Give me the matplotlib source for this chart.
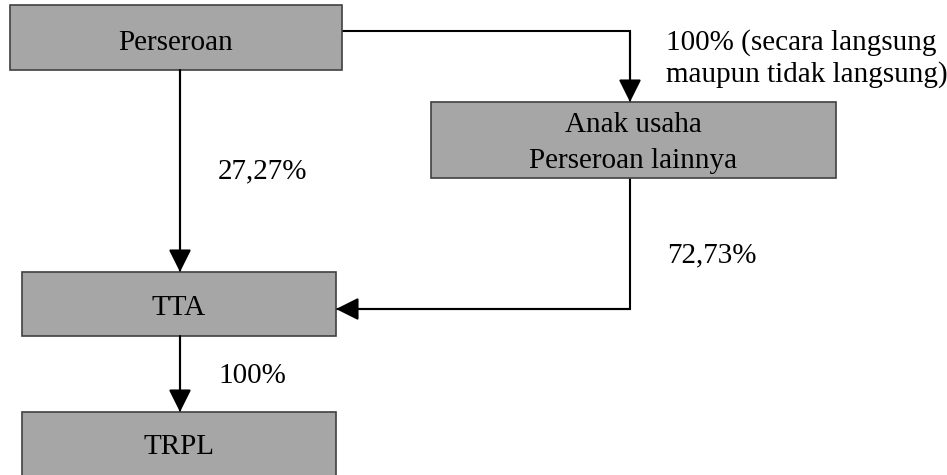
import matplotlib
matplotlib.use("Agg")
import matplotlib.pyplot as plt
from matplotlib.patches import Rectangle, FancyArrowPatch

plt.rcParams['font.family'] = ['Liberation Serif', 'DejaVu Serif']

box_labels = ["Perseroan", "Anak usaha\nPerseroan lainnya", "TTA", "TRPL"]
box_x0 = [10, 431, 22, 22]
box_x1 = [342, 836, 336, 336]
box_y0 = [5, 102, 272, 412]
box_y1 = [70, 178, 336, 480]
pct_labels = ["100% (secara langsung\nmaupun tidak langsung)", "27,27%", "72,73%", "100%"]

W, H = 947, 475
fig = plt.figure(figsize=(W / 100, H / 100), dpi=100)
ax = fig.add_axes([0, 0, 1, 1])
ax.set_xlim(0, W)
ax.set_ylim(H, 0)
ax.axis('off')

fs = 21
fill = '#a6a6a6'
edge = '#404040'

label_y = [50, None, 315, 454]
for lab, x0, x1, y0, y1, ly in zip(box_labels, box_x0, box_x1, box_y0, box_y1, label_y):
    ax.add_patch(Rectangle((x0, y0), x1 - x0, y1 - y0, facecolor=fill,
                           edgecolor=edge, linewidth=1.2, zorder=2))
    if ly is None:
        ax.text((x0 + x1) / 2, 132, "Anak usaha", ha='center', va='baseline', fontsize=fs, zorder=3)
        ax.text((x0 + x1) / 2, 168, "Perseroan lainnya", ha='center', va='baseline', fontsize=fs, zorder=3)
    else:
        ax.text((x0 + x1) / 2, ly, lab, ha='center', va='baseline', fontsize=fs, zorder=3)

def arrow(points):
    xs = [p[0] for p in points]
    ys = [p[1] for p in points]
    ax.plot(xs, ys, color='black', lw=1.5, solid_joinstyle='miter', zorder=1)
    ax.add_patch(FancyArrowPatch(points[-2], points[-1],
                                 arrowstyle='-|>,head_length=0.6,head_width=0.3',
                                 mutation_scale=23, color='black', lw=1.5,
                                 shrinkA=0, shrinkB=0, zorder=4))

# Perseroan -> Anak usaha
arrow([(342, 31), (630, 31), (630, 102)])
# Perseroan -> TTA
arrow([(180, 70), (180, 272)])
# Anak usaha -> TTA
arrow([(630, 178), (630, 309), (336, 309)])
# TTA -> TRPL
arrow([(180, 336), (180, 412)])

p1 = pct_labels[0].split("\n")
ax.text(666, 50, p1[0], ha='left', va='baseline', fontsize=fs)
ax.text(666, 82, p1[1], ha='left', va='baseline', fontsize=fs)
ax.text(218, 178, pct_labels[1], ha='left', va='baseline', fontsize=fs)
ax.text(667, 262, pct_labels[2], ha='left', va='baseline', fontsize=fs)
ax.text(218, 383, pct_labels[3], ha='left', va='baseline', fontsize=fs)

fig.savefig("out.png", dpi=100, facecolor='white')
